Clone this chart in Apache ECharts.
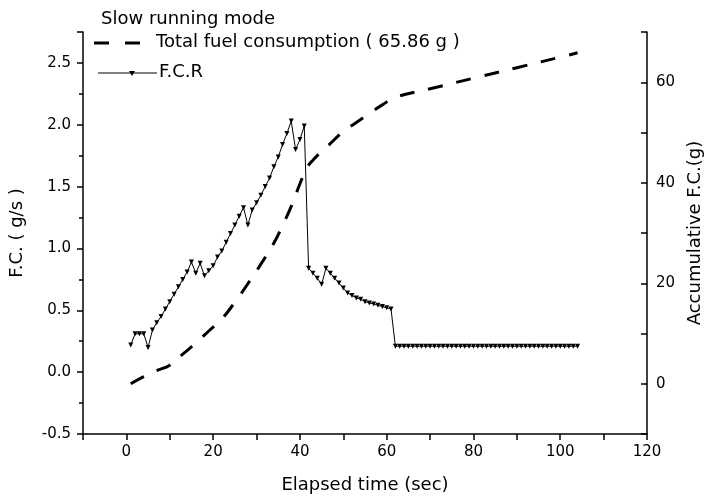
<!DOCTYPE html>
<html><head><meta charset="utf-8">
<script src="https://cdn.jsdelivr.net/npm/echarts@6/dist/echarts.min.js"></script>
<style>html,body{margin:0;padding:0;background:#fff}#c{width:707px;height:500px}</style>
</head><body><div id="c"></div>
<script>
// Fuel consumption rate (g/s), sampled once per second
const fcrTime = [1,2,3,4,5,6,7,8,9,10,11,12,13,14,15,16,17,18,19,20,21,22,23,24,25,26,27,28,29,30,
  31,32,33,34,35,36,37,38,39,40,41,42,43,44,45,46,47,48,49,50,51,52,53,54,55,56,57,58,59,60,
  61,62,63,64,65,66,67,68,69,70,71,72,73,74,75,76,77,78,79,80,81,82,83,84,85,86,87,88,89,90,
  91,92,93,94,95,96,97,98,99,100,101,102,103,104];
const fcrValues = [0.22,0.31,0.31,0.31,0.20,0.34,0.40,0.45,0.51,0.57,0.63,0.69,0.75,0.81,0.89,0.80,0.88,0.78,0.82,0.86,
  0.93,0.98,1.05,1.12,1.19,1.26,1.33,1.19,1.31,1.37,1.43,1.50,1.57,1.66,1.74,1.84,1.93,2.03,1.80,1.88,
  1.99,0.84,0.80,0.76,0.71,0.84,0.80,0.76,0.72,0.68,0.64,0.62,0.60,0.59,0.57,0.56,0.55,0.54,0.53,0.52,
  0.51,0.21,0.21,0.21,0.21,0.21,0.21,0.21,0.21,0.21,0.21,0.21,0.21,0.21,0.21,0.21,0.21,0.21,0.21,0.21,
  0.21,0.21,0.21,0.21,0.21,0.21,0.21,0.21,0.21,0.21,0.21,0.21,0.21,0.21,0.21,0.21,0.21,0.21,0.21,0.21,
  0.21,0.21,0.21,0.21];
// Accumulative fuel consumption (g)
const totalTime = [1,4,7,10,13,16,19,22,25,28,31,34,36,38,40,41,42,43,44,45,47,50,53,56,59,62,70,80,90,100,104];
const totalValues = [0,1.4,2.6,3.7,5.9,8.1,10.5,12.9,16.2,19.9,23.8,28.0,31.5,35.3,39.8,41.8,43.5,44.5,45.4,46.2,47.8,50.2,52.0,53.8,55.5,57.0,58.7,60.8,62.9,65.0,65.86];

const xTickLabels = [0,20,40,60,80,100,120];
const leftTickLabels = [-0.5,0,0.5,1,1.5,2,2.5];
const rightTickLabels = [0,20,40,60];

const seriesNames = ['Total fuel consumption ( 65.86 g )','F.C.R'];
const chartTitle = 'Slow running mode';

const FONT = "'DejaVu Sans', sans-serif";
const chart = echarts.init(document.getElementById('c'), null, {renderer:'canvas'});
const axisLine = {show:true, onZero:false, lineStyle:{color:'#000', width:1.5}};
const near = (v, arr) => arr.some(a => Math.abs(a - v) < 1e-6);

chart.setOption({
  backgroundColor:'#fff',
  animation:false,
  textStyle:{fontFamily:FONT, color:'#000'},
  title:{text:chartTitle, left:96, top:5, textStyle:{fontFamily:FONT, fontSize:18, fontWeight:'normal', color:'#000'}},
  graphic:[
    {type:'line', shape:{x1:94, y1:43, x2:140, y2:43}, style:{stroke:'#000', lineWidth:3, lineDash:[15,16]}},
    {type:'text', left:156, top:33, style:{text:seriesNames[0], font:"18px 'DejaVu Sans', sans-serif", fill:'#000'}},
    {type:'line', shape:{x1:98, y1:73, x2:157, y2:73}, style:{stroke:'#000', lineWidth:1}},
    {type:'polygon', shape:{points:[[129,71],[135,71],[132,76]]}, style:{fill:'#000'}},
    {type:'text', left:159, top:63, style:{text:seriesNames[1], font:"18px 'DejaVu Sans', sans-serif", fill:'#000'}}
  ],
  grid:{left:83, right:60, top:32, bottom:66, outerBoundsMode:'none', containLabel:false},
  xAxis:{
    type:'value', min:-10, max:120, interval:10,
    name:'Elapsed time (sec)', nameLocation:'middle', nameGap:42,
    nameTextStyle:{fontFamily:FONT, fontSize:18, color:'#000'},
    axisLine:axisLine,
    axisTick:{show:true, inside:false, length:6, lineStyle:{color:'#000', width:1.5}},
    axisLabel:{fontFamily:FONT, fontSize:15, color:'#000', margin:11,
      formatter:v => near(v, xTickLabels) ? String(v) : ''},
    splitLine:{show:false}
  },
  yAxis:[{
    type:'value', min:-0.5, max:2.75, interval:0.5, position:'left',
    name:'F.C. ( g/s )', nameLocation:'middle', nameGap:57,
    nameTextStyle:{fontFamily:FONT, fontSize:18, color:'#000'},
    axisLine:axisLine,
    axisTick:{show:true, inside:false, length:6, lineStyle:{color:'#000', width:1.5}},
    minorTick:{show:true, splitNumber:2, length:4, lineStyle:{color:'#000', width:1.5}},
    axisLabel:{fontFamily:FONT, fontSize:15, color:'#000', margin:12, showMaxLabel:false,
      formatter:v => near(v, leftTickLabels) ? v.toFixed(1) : ''},
    splitLine:{show:false}, minorSplitLine:{show:false}
  },{
    type:'value', min:-10, max:70, interval:10, position:'right',
    name:'Accumulative F.C.(g)', nameLocation:'middle', nameGap:34,
    nameTextStyle:{fontFamily:FONT, fontSize:18, color:'#000'},
    axisLine:axisLine,
    axisTick:{show:true, inside:true, length:6, lineStyle:{color:'#000', width:1.5}},
    axisLabel:{fontFamily:FONT, fontSize:15, color:'#000', margin:9,
      formatter:v => near(v, rightTickLabels) ? String(v) : ''},
    splitLine:{show:false}
  }],
  series:[{
    name:seriesNames[0], type:'line', yAxisIndex:1, smooth:0.4, symbol:'none',
    data:totalTime.map((t,i)=>[t,totalValues[i]]),
    lineStyle:{color:'#000', width:3, type:[15,14]},
    itemStyle:{color:'#000'}
  },{
    name:seriesNames[1], type:'line', yAxisIndex:0,
    data:fcrTime.map((t,i)=>[t,fcrValues[i]]),
    symbol:'triangle', symbolRotate:180, symbolSize:5, showAllSymbol:true,
    lineStyle:{color:'#000', width:1},
    itemStyle:{color:'#000'}
  }]
});
</script></body></html>
